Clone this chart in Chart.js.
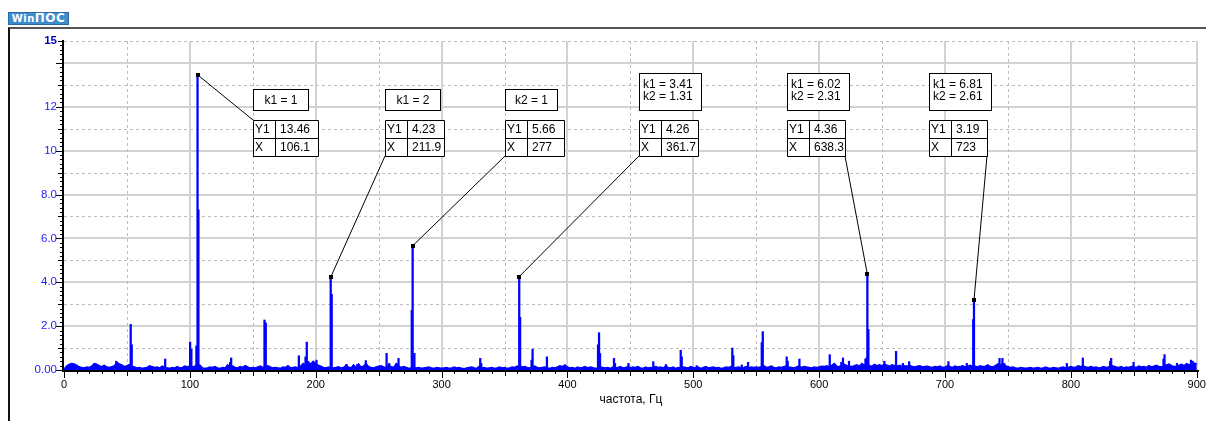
<!DOCTYPE html>
<html>
<head>
<meta charset="utf-8">
<script src="https://cdn.jsdelivr.net/npm/chart.js@4.4.1/dist/chart.umd.min.js"></script>
<style>
  body { margin: 0; background: #fff; overflow: hidden; }
  #logo {
    position: absolute; left: 8px; top: 12px; width: 59px; height: 11px;
    background: #3f8ccc; border: 1px solid #2a6aa8; color: #fff;
    font: bold 10px "DejaVu Sans", sans-serif; line-height: 11px; text-align: center;
    letter-spacing: 0.5px;
  }
  #logo b { font-size: 12px; }
  #frame {
    position: absolute; left: 8px; top: 27px; width: 1300px; height: 500px;
    border-left: 2px solid #111; border-top: 2px solid #555;
  }
  #myChart { position: absolute; left: 0; top: 0; }
</style>
</head>
<body>
<div id="logo">Win<b>ПОС</b></div>
<div id="frame"></div>
<canvas id="myChart" width="1206" height="421"></canvas>
<script>
// noise floor of the spectrum, one value every 2 Hz from 0 to 900 Hz
const noiseStep = 2;
const noiseAmp = [
  0.05, 0.18, 0.26, 0.30, 0.28, 0.22, 0.15, 0.12, 0.10, 0.14, 0.12, 0.18, 0.30, 0.26, 0.20, 0.16, 0.22, 0.14, 0.12, 0.16, 0.20, 0.35, 0.28, 0.24, 0.16,
  0.20, 0.25, 0.18, 0.14, 0.10, 0.12, 0.08, 0.10, 0.12, 0.20, 0.16, 0.12, 0.14, 0.10, 0.18, 0.12, 0.10, 0.08, 0.12, 0.10, 0.16, 0.10, 0.12, 0.18, 0.14,
  0.20, 0.14, 0.18, 0.25, 0.22, 0.10, 0.08, 0.10, 0.14, 0.12, 0.16, 0.10, 0.08, 0.12, 0.10, 0.24, 0.14, 0.18, 0.12, 0.10, 0.16, 0.12, 0.20, 0.14, 0.10,
  0.12, 0.10, 0.14, 0.18, 0.12, 0.16, 0.20, 0.14, 0.10, 0.12, 0.10, 0.08, 0.14, 0.12, 0.20, 0.10, 0.12, 0.14, 0.10, 0.18, 0.30, 0.22, 0.35, 0.28, 0.40,
  0.30, 0.22, 0.18, 0.12, 0.10, 0.14, 0.08, 0.10, 0.12, 0.15, 0.10, 0.12, 0.20, 0.14, 0.10, 0.24, 0.12, 0.28, 0.14, 0.18, 0.30, 0.16, 0.12, 0.10, 0.14,
  0.18, 0.20, 0.14, 0.12, 0.22, 0.16, 0.12, 0.30, 0.18, 0.12, 0.16, 0.12, 0.08, 0.10, 0.14, 0.10, 0.12, 0.08, 0.10, 0.12, 0.14, 0.10, 0.08, 0.12, 0.10,
  0.08, 0.10, 0.12, 0.08, 0.10, 0.14, 0.10, 0.12, 0.08, 0.06, 0.10, 0.12, 0.14, 0.10, 0.08, 0.18, 0.10, 0.12, 0.08, 0.10, 0.12, 0.08, 0.10, 0.14, 0.10,
  0.12, 0.08, 0.10, 0.14, 0.12, 0.18, 0.20, 0.14, 0.16, 0.12, 0.10, 0.14, 0.18, 0.12, 0.10, 0.12, 0.14, 0.10, 0.08, 0.12, 0.10, 0.14, 0.20, 0.16, 0.24,
  0.14, 0.10, 0.12, 0.08, 0.14, 0.10, 0.12, 0.16, 0.10, 0.14, 0.12, 0.08, 0.10, 0.14, 0.12, 0.10, 0.12, 0.08, 0.14, 0.10, 0.12, 0.16, 0.10, 0.12, 0.16,
  0.10, 0.14, 0.12, 0.16, 0.10, 0.08, 0.14, 0.10, 0.12, 0.10, 0.16, 0.12, 0.14, 0.10, 0.18, 0.12, 0.10, 0.14, 0.08, 0.12, 0.10, 0.14, 0.12, 0.10, 0.16,
  0.12, 0.10, 0.14, 0.08, 0.12, 0.16, 0.10, 0.12, 0.14, 0.10, 0.12, 0.08, 0.10, 0.14, 0.12, 0.16, 0.10, 0.12, 0.14, 0.10, 0.12, 0.16, 0.10, 0.14, 0.12,
  0.14, 0.12, 0.16, 0.20, 0.12, 0.14, 0.18, 0.12, 0.10, 0.14, 0.12, 0.16, 0.20, 0.14, 0.12, 0.10, 0.14, 0.18, 0.12, 0.16, 0.14, 0.12, 0.10, 0.14, 0.12,
  0.14, 0.18, 0.16, 0.20, 0.14, 0.22, 0.30, 0.18, 0.16, 0.22, 0.26, 0.20, 0.18, 0.16, 0.20, 0.24, 0.18, 0.30, 0.22, 0.28, 0.20, 0.18, 0.26, 0.20, 0.24,
  0.20, 0.26, 0.22, 0.18, 0.24, 0.20, 0.18, 0.22, 0.16, 0.20, 0.18, 0.22, 0.16, 0.14, 0.18, 0.20, 0.14, 0.16, 0.18, 0.14, 0.12, 0.16, 0.14, 0.18, 0.12,
  0.14, 0.20, 0.16, 0.12, 0.18, 0.14, 0.16, 0.20, 0.14, 0.18, 0.22, 0.16, 0.18, 0.14, 0.20, 0.16, 0.18, 0.24, 0.16, 0.14, 0.20, 0.28, 0.22, 0.30, 0.20,
  0.16, 0.12, 0.14, 0.10, 0.08, 0.12, 0.10, 0.08, 0.10, 0.12, 0.08, 0.10, 0.12, 0.08, 0.10, 0.14, 0.10, 0.08, 0.12, 0.10, 0.08, 0.12, 0.14, 0.10, 0.12,
  0.16, 0.12, 0.14, 0.20, 0.16, 0.18, 0.14, 0.12, 0.16, 0.12, 0.14, 0.10, 0.12, 0.16, 0.12, 0.14, 0.22, 0.18, 0.14, 0.12, 0.16, 0.10, 0.14, 0.12, 0.16,
  0.14, 0.12, 0.18, 0.14, 0.16, 0.12, 0.20, 0.14, 0.18, 0.22, 0.16, 0.14, 0.18, 0.24, 0.28, 0.20, 0.16, 0.18, 0.22, 0.26, 0.20, 0.30, 0.24, 0.22, 0.32,
  0.28
];

// narrow spectral lines (Hz, amplitude)
const spikeFreq = [
  6.5, 25, 41.5, 53.0, 53.8, 80.4, 100.2, 101.2, 105.2, 106.1, 106.8, 132.0, 132.8,
  159.3, 160.3, 186.6, 191.9, 192.9, 194.0, 200.6, 211.9, 212.7, 224.5, 233, 239.8,
  256.3, 258.4, 265.8, 276.3, 277, 278.4, 330.7, 331.5, 361.7, 362.4, 371.5, 372.3,
  383.7, 424.3, 425.1, 425.9, 437.0, 437.8, 448.5, 468.2, 478.3, 490.0, 490.8, 502.7,
  531.0, 531.8, 538.5, 543.5, 554.4, 555.2, 574.2, 575.0, 584.3, 608.4, 617.6, 618.9,
  623.7, 636.8, 637.6, 638.3, 639.1, 651.8, 661.1, 666.5, 671.5, 702.7, 717.3, 722.4,
  723, 743.3, 745.6, 747.0, 796.8, 809.5, 831.2, 832.0, 849.8, 873.6, 874.4, 884.3,
  895.4, 896.7
];
const spikeAmp = [
  0.30, 0.30, 0.40, 2.08, 1.15, 0.50, 1.27, 0.95, 1.10, 13.46, 7.30, 0.35, 0.55,
  2.28, 2.15, 0.65, 0.60, 1.27, 0.40, 0.45, 4.23, 3.45, 0.26, 0.25, 0.43,
  0.76, 0.30, 0.53, 2.72, 5.66, 0.76, 0.53, 0.30, 4.26, 2.40, 0.45, 0.95,
  0.60, 1.15, 1.70, 0.75, 0.53, 0.30, 0.30, 0.38, 0.25, 0.90, 0.60, 0.20,
  1.00, 0.65, 0.23, 0.35, 1.25, 1.75, 0.60, 0.40, 0.50, 0.70, 0.35, 0.55,
  0.40, 0.50, 0.55, 4.36, 1.85, 0.40, 0.85, 0.30, 0.38, 0.38, 0.30, 2.30,
  3.19, 0.53, 0.53, 0.30, 0.30, 0.55, 0.40, 0.53, 0.35, 0.50, 0.70, 0.30,
  0.45, 0.40
];

// marked peaks
const annotX = [106.1, 211.9, 277, 361.7, 638.3, 723];
const annotY = [13.46, 4.23, 5.66, 4.26, 4.36, 3.19];
const annotK = [
  ['k1 = 1'], ['k1 = 2'], ['k2 = 1'],
  ['k1 = 3.41', 'k2 = 1.31'], ['k1 = 6.02', 'k2 = 2.31'], ['k1 = 6.81', 'k2 = 2.61']
];

// axis ticks
const xTickValues = [0, 100, 200, 300, 400, 500, 600, 700, 800, 900];
const yTickValues = [0, 1, 2, 3, 4, 5, 6, 7, 8, 9, 10, 11, 12, 13, 14, 15];
const yTickLabels = ['0.00', '', '2.0', '', '4.0', '', '6.0', '', '8.0', '', '10', '', '12', '', '', '15'];

// callout box placement (screen pixels)
const boxLeft = [253, 385, 505, 639, 787, 929];
const labelW = [55, 55, 52, 62, 62, 62];
const valueW = [43, 37, 37, 37, 36, 36];
const leaderCorner = ['tl', 'bl', 'bl', 'bl', 'br', 'br'];

const xMax = 901;
const yMax = 15;
const fontFamily = '"Liberation Sans", Arial, sans-serif';

const noisePoints = noiseAmp.map((v, i) => ({x: i * noiseStep, y: v}));
const spikePoints = spikeFreq.map((f, i) => ({x: f, y: spikeAmp[i]}));

const frameworkPlugin = {
  id: 'winpos',
  beforeDatasetsDraw(chart) {
    const {ctx, chartArea: a, scales: {x, y}} = chart;
    ctx.save();
    // horizontal grid
    for (let v = 1; v <= yMax; v++) {
      const py = Math.round(y.getPixelForValue(v));
      ctx.beginPath();
      if (v % 2 === 0) {
        ctx.setLineDash([]); ctx.strokeStyle = '#d2d2d2'; ctx.lineWidth = 2;
        ctx.moveTo(a.left, py); ctx.lineTo(a.right, py);
      } else {
        ctx.setLineDash([3, 3]); ctx.strokeStyle = '#bcbcbc'; ctx.lineWidth = 1;
        ctx.moveTo(a.left, py + 0.5); ctx.lineTo(a.right, py + 0.5);
      }
      ctx.stroke();
    }
    // vertical grid
    for (let v = 50; v < xMax; v += 50) {
      const px = Math.round(x.getPixelForValue(v));
      ctx.beginPath();
      if (v % 100 === 0) {
        ctx.setLineDash([]); ctx.strokeStyle = '#d2d2d2'; ctx.lineWidth = 2;
        ctx.moveTo(px, a.top); ctx.lineTo(px, a.bottom);
      } else {
        ctx.setLineDash([3, 3]); ctx.strokeStyle = '#bcbcbc'; ctx.lineWidth = 1;
        ctx.moveTo(px + 0.5, a.top); ctx.lineTo(px + 0.5, a.bottom);
      }
      ctx.stroke();
    }
    ctx.restore();
  },
  afterDatasetsDraw(chart) {
    const {ctx, chartArea: a, scales: {x, y}} = chart;
    ctx.save();
    ctx.setLineDash([]);
    ctx.strokeStyle = '#000';
    // axes
    ctx.lineWidth = 2;
    ctx.beginPath();
    ctx.moveTo(a.left - 1, a.top - 1); ctx.lineTo(a.left - 1, a.bottom + 2);
    ctx.moveTo(a.left - 2, a.bottom + 1); ctx.lineTo(a.right + 1, a.bottom + 1);
    ctx.stroke();
    // tick marks
    ctx.lineWidth = 1;
    ctx.beginPath();
    for (let v = 0; v < xMax; v += 10) {
      const px = Math.round(x.getPixelForValue(v)) + 0.5;
      const len = v % 100 === 0 ? 6 : (v % 50 === 0 ? 4 : 2);
      ctx.moveTo(px, a.bottom + 2); ctx.lineTo(px, a.bottom + 2 + len);
    }
    for (let k = 0; k <= yMax * 5; k++) {
      const py = Math.round(y.getPixelForValue(k / 5)) + 0.5;
      const len = k % 10 === 0 ? 6 : (k % 5 === 0 ? 4 : 2);
      ctx.moveTo(a.left - 2, py); ctx.lineTo(a.left - 2 - len, py);
    }
    ctx.stroke();

    // callouts
    ctx.font = '12px ' + fontFamily;
    ctx.textBaseline = 'middle';
    const tableTop = 120, rowH = 18, col1 = 22;
    annotX.forEach((fx, i) => {
      const px = x.getPixelForValue(fx);
      const py = y.getPixelForValue(annotY[i]);
      const left = boxLeft[i];
      const tW = col1 + valueW[i];
      let ex = left, ey = tableTop + 2 * rowH;
      if (leaderCorner[i] === 'tl') ey = tableTop;
      if (leaderCorner[i] === 'br') ex = left + tW;
      ctx.strokeStyle = '#000';
      ctx.beginPath(); ctx.moveTo(px, py); ctx.lineTo(ex, ey); ctx.stroke();
      ctx.fillStyle = '#000';
      ctx.fillRect(Math.round(px) - 2, Math.round(py) - 2, 4, 4);

      // k label box
      const lines = annotK[i];
      const lh = lines.length === 1 ? 21 : 37;
      const lTop = 110 - lh;
      ctx.fillStyle = '#fff';
      ctx.fillRect(left, lTop, labelW[i], lh);
      ctx.strokeRect(left + 0.5, lTop + 0.5, labelW[i], lh);
      ctx.fillStyle = '#000';
      if (lines.length === 1) {
        ctx.textAlign = 'center';
        ctx.fillText(lines[0], left + labelW[i] / 2 + 0.5, lTop + lh / 2 + 1);
      } else {
        ctx.textAlign = 'left';
        ctx.fillText(lines[0], left + 4, lTop + 12);
        ctx.fillText(lines[1], left + 4, lTop + 24);
      }

      // value table
      ctx.fillStyle = '#fff';
      ctx.fillRect(left, tableTop, tW, 2 * rowH);
      ctx.beginPath();
      ctx.rect(left + 0.5, tableTop + 0.5, tW, 2 * rowH);
      ctx.moveTo(left, tableTop + rowH + 0.5); ctx.lineTo(left + tW, tableTop + rowH + 0.5);
      ctx.moveTo(left + col1 + 0.5, tableTop); ctx.lineTo(left + col1 + 0.5, tableTop + 2 * rowH);
      ctx.stroke();
      ctx.fillStyle = '#000';
      ctx.textAlign = 'left';
      ctx.fillText('Y1', left + 2, tableTop + rowH / 2 + 1);
      ctx.fillText('X', left + 2, tableTop + rowH * 1.5 + 1);
      ctx.fillText(String(annotY[i]), left + col1 + 5, tableTop + rowH / 2 + 1);
      ctx.fillText(String(fx), left + col1 + 5, tableTop + rowH * 1.5 + 1);
    });
    ctx.restore();
  }
};

const ctx = document.getElementById('myChart');

const myChart = new Chart(ctx, {
  type: 'line',
  data: {
    datasets: [{
      type: 'line',
      data: noisePoints,
      borderColor: '#0000ff',
      backgroundColor: '#0000ff',
      borderWidth: 1.3,
      pointRadius: 0,
      tension: 0,
      fill: 'origin'
    }, {
      type: 'bar',
      data: spikePoints,
      backgroundColor: '#0000ff',
      borderWidth: 0,
      barThickness: 1.6
    }]
  },
  options: {
    responsive: false,
    animation: false,
    devicePixelRatio: 1,
    layout: { padding: { left: 0, top: 41, right: 8, bottom: 0 } },
    plugins: { legend: { display: false }, tooltip: { enabled: false } },
    scales: {
      x: {
        type: 'linear',
        min: 0,
        max: xMax,
        offset: false,
        grid: { display: false, drawTicks: false, offset: false },
        border: { display: false },
        afterBuildTicks: s => { s.ticks = xTickValues.map(v => ({value: v})); },
        afterFit: s => { s.height = 51; s.paddingLeft = 0; s.paddingRight = 0; },
        ticks: {
          autoSkip: false,
          maxRotation: 0,
          padding: 8,
          color: '#000',
          font: { family: fontFamily, size: 11 },
          callback: v => String(v)
        },
        title: {
          display: true,
          text: 'частота, Гц',
          color: '#000',
          font: { family: fontFamily, size: 12 },
          padding: { top: 0, bottom: 14 }
        }
      },
      y: {
        min: 0,
        max: yMax,
        grid: { display: false, drawTicks: false },
        border: { display: false },
        afterBuildTicks: s => { s.ticks = yTickValues.map(v => ({value: v})); },
        afterFit: s => { s.width = 64; s.paddingTop = 0; s.paddingBottom = 0; },
        ticks: {
          autoSkip: false,
          padding: 7,
          color: c => (c.tick && c.tick.value === 15 ? '#0000c8' : '#2222ff'),
          font: c => ({ family: fontFamily, size: 11.5, weight: (c.tick && c.tick.value === 15) ? 'bold' : 'normal' }),
          callback: (v, i) => yTickLabels[yTickValues.indexOf(v)] || ''
        }
      }
    }
  },
  plugins: [frameworkPlugin]
});
</script>
</body>
</html>
